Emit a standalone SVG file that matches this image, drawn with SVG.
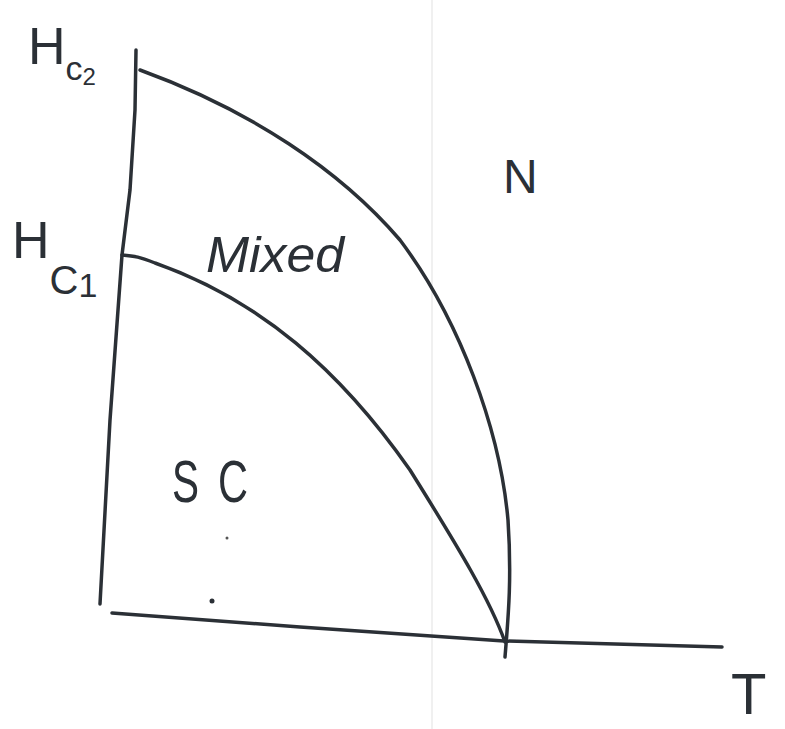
<svg xmlns="http://www.w3.org/2000/svg" width="785" height="729" viewBox="0 0 785 729">
<style>
.ln{fill:none;stroke:#2b3036;stroke-width:3.5;stroke-linecap:round;stroke-linejoin:round}
.lb{font-family:"Liberation Sans",Arial,sans-serif;fill:#2b3036}
</style>
<rect width="785" height="729" fill="#ffffff"/>
<line x1="432" y1="0" x2="432" y2="729" stroke="#f0f0f0" stroke-width="2"/>
<g id="axes">
<path class="ln" d="M136,50 L135,110 L130,190 L122,255 L110,420 L100,604"/>
<path class="ln" d="M112,613 L300,627 L504,641 L722,647"/>
</g>
<g id="curves">
<path class="ln" d="M140,70 C250,110 340,170 400,240 C460,320 500,430 508,520 C512,580 508,620 505,657"/>
<path class="ln" d="M122,255 C135,256 140,257 155,263 C260,300 340,370 410,470 C460,550 490,600 505,642"/>
</g>
<g id="labels">
<text class="lb" x="28" y="64" font-size="52">H<tspan font-size="34" dy="16">c</tspan><tspan font-size="24" dy="5">2</tspan></text>
<text class="lb" x="12" y="258" font-size="52">H<tspan font-size="40" dy="36">C</tspan><tspan font-size="34" dy="3">1</tspan></text>
<text class="lb" x="206" y="272" font-size="50" font-style="italic" textLength="138" lengthAdjust="spacingAndGlyphs">Mixed</text>
<text class="lb" x="503" y="193" font-size="48">N</text>
<text class="lb" x="172" y="502" font-size="60" textLength="27" lengthAdjust="spacingAndGlyphs">S</text>
<text class="lb" x="218" y="502" font-size="60" textLength="30" lengthAdjust="spacingAndGlyphs">C</text>
<text class="lb" x="731" y="714" font-size="58">T</text>
<circle cx="212" cy="601" r="2.5" fill="#2b3036"/>
<circle cx="227" cy="538" r="1.5" fill="#555"/>
</g>
</svg>
